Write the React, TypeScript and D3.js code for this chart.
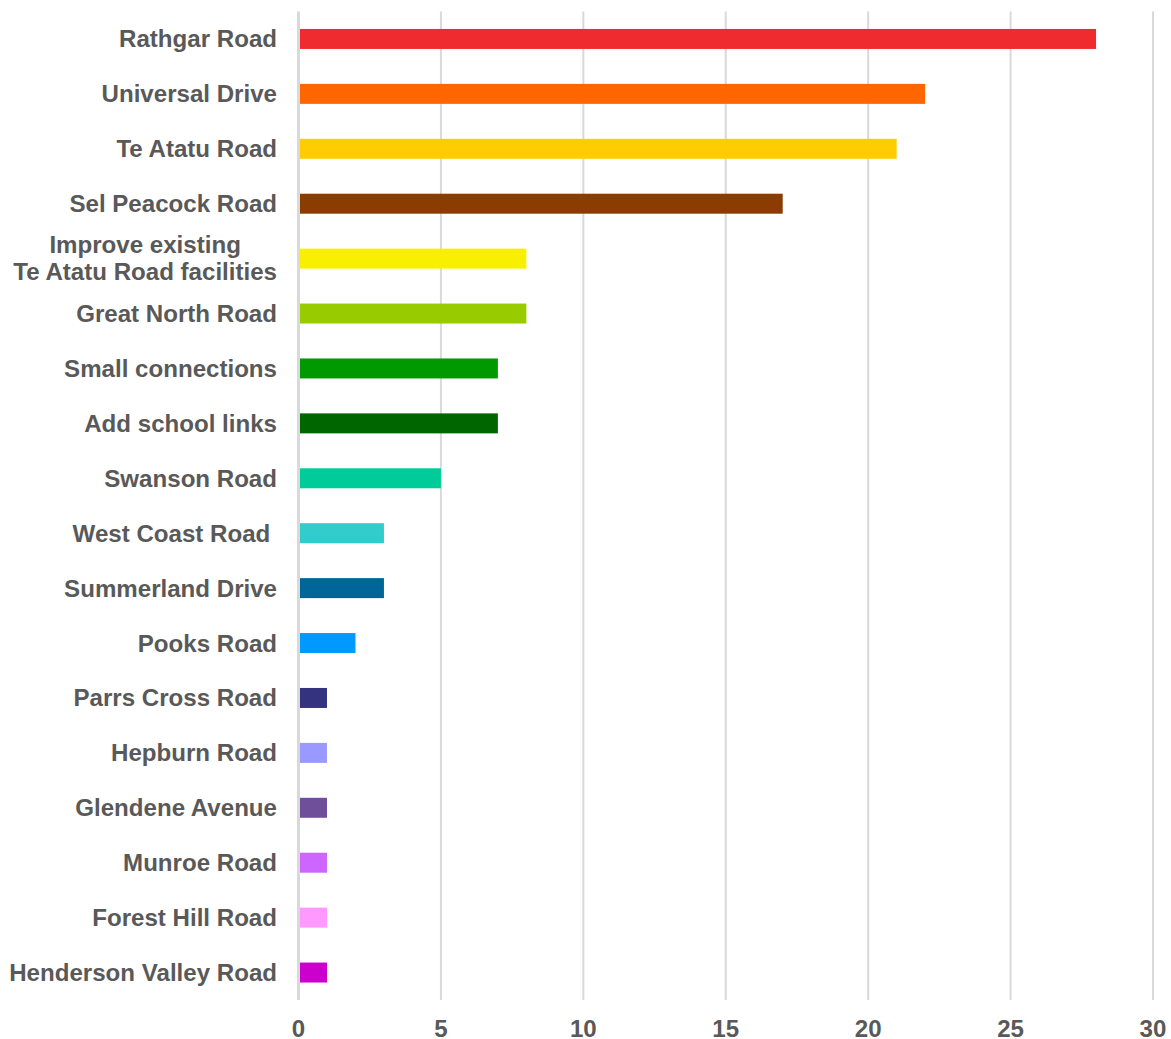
import React, { useEffect, useRef } from "react";
import * as d3 from "d3";

const categories: string[] = [
  "Rathgar Road",
  "Universal Drive",
  "Te Atatu Road",
  "Sel Peacock Road",
  "Improve existing\nTe Atatu Road facilities",
  "Great North Road",
  "Small connections",
  "Add school links",
  "Swanson Road",
  "West Coast Road ",
  "Summerland Drive",
  "Pooks Road",
  "Parrs Cross Road",
  "Hepburn Road",
  "Glendene Avenue",
  "Munroe Road",
  "Forest Hill Road",
  "Henderson Valley Road",
];

const values: number[] = [28, 22, 21, 17, 8, 8, 7, 7, 5, 3, 3, 2, 1, 1, 1, 1, 1, 1];

const colors: string[] = [
  "#EF2B2F",
  "#FF6600",
  "#FFCC00",
  "#8B3C00",
  "#F8F000",
  "#99CC00",
  "#009900",
  "#006600",
  "#00CC99",
  "#33CCCC",
  "#006699",
  "#0099FF",
  "#333380",
  "#9999FF",
  "#704F9A",
  "#CC66FF",
  "#FF99FF",
  "#CC00CC",
];

const xTicks: number[] = [0, 5, 10, 15, 20, 25, 30];

const W = 1171;
const H = 1039;
const FONT = "'Liberation Sans', Arial, sans-serif";
const TEXT = "#595959";
const FS = 24.1;

export default function App() {
  const ref = useRef<SVGSVGElement>(null);

  useEffect(() => {
    const svg = d3.select(ref.current);
    svg.selectAll("*").remove();

    const x = d3.scaleLinear().domain([0, 30]).range([298.5, 1153]);
    const y = d3
      .scaleBand<string>()
      .domain(categories)
      .range([11.5, 1000])
      .paddingInner(0.636)
      .paddingOuter(0.318);

    svg
      .append("g")
      .selectAll("line")
      .data(xTicks.filter((t) => t !== 0))
      .join("line")
      .attr("x1", (d) => x(d))
      .attr("x2", (d) => x(d))
      .attr("y1", 11.5)
      .attr("y2", 1000)
      .attr("stroke", "#D9D9D9")
      .attr("stroke-width", 2);

    svg
      .append("g")
      .selectAll("rect")
      .data(categories)
      .join("rect")
      .attr("x", x(0) + 1.5)
      .attr("y", (d) => y(d)!)
      .attr("width", (d, i) => x(values[i]) - x(0) - 1.5)
      .attr("height", y.bandwidth())
      .attr("fill", (d, i) => colors[i]);

    svg
      .append("line")
      .attr("x1", x(0))
      .attr("x2", x(0))
      .attr("y1", 11.5)
      .attr("y2", 1000)
      .attr("stroke", "#D9D9D9")
      .attr("stroke-width", 3);

    svg
      .append("g")
      .selectAll("text")
      .data(xTicks)
      .join("text")
      .attr("x", (d) => x(d))
      .attr("y", 1037)
      .attr("text-anchor", "middle")
      .attr("font-family", FONT)
      .attr("font-weight", "bold")
      .attr("font-size", FS)
      .attr("fill", TEXT)
      .text((d) => String(d));

    const labelRight = 277;
    const lg = svg.append("g");
    categories.forEach((c) => {
      const cy = y(c)! + y.bandwidth() / 2;
      const lines = c.split("\n");
      if (lines.length === 1) {
        lg.append("text")
          .attr("x", labelRight)
          .attr("y", cy + 8.5)
          .attr("text-anchor", "end")
          .attr("font-family", FONT)
          .attr("font-weight", "bold")
          .attr("font-size", FS)
          .attr("fill", TEXT)
          .style("white-space", "pre")
          .text(c);
      } else {
        const second = lg
          .append("text")
          .attr("x", labelRight)
          .attr("y", cy + 21)
          .attr("text-anchor", "end")
          .attr("font-family", FONT)
          .attr("font-weight", "bold")
          .attr("font-size", FS)
          .attr("fill", TEXT)
          .text(lines[1]);
        const w = (second.node() as SVGTextElement).getComputedTextLength();
        lg.append("text")
          .attr("x", labelRight - w / 2)
          .attr("y", cy - 5.7)
          .attr("text-anchor", "middle")
          .attr("font-family", FONT)
          .attr("font-weight", "bold")
          .attr("font-size", FS)
          .attr("fill", TEXT)
          .text(lines[0]);
      }
    });
  }, []);

  return (
    <svg
      ref={ref}
      width={W}
      height={H}
      style={{ position: "absolute", left: 0, top: 0, background: "#fff" }}
    />
  );
}
